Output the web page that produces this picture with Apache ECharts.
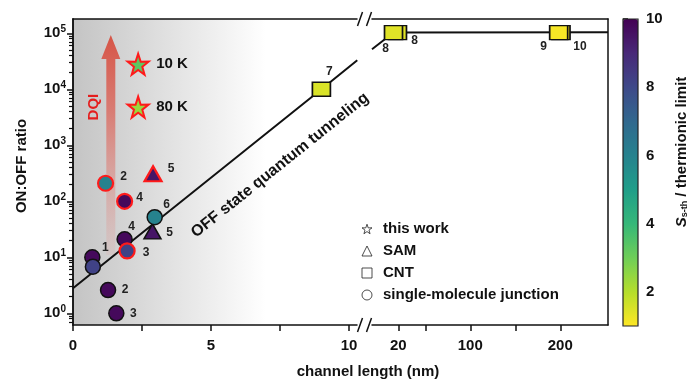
<!DOCTYPE html>
<html><head><meta charset="utf-8">
<script src="https://cdn.jsdelivr.net/npm/echarts@6/dist/echarts.min.js"></script>
<style>html,body{margin:0;padding:0;background:#fff}#c{width:690px;height:385px}</style>
</head><body><div id="c"></div>
<script>
// ---------- data ----------
const molX = [0.70, 0.72, 1.27, 1.57, 1.18, 1.87, 1.87, 1.96, 2.96];
const molY = [10, 6.8, 2.6, 1.0, 210, 100, 21, 13, 52];
const molS = [9.8, 8.2, 9.8, 9.8, 6.0, 9.8, 9.8, 8.2, 6.0];
const molLabel = ['1', '', '2', '3', '2', '4', '4', '3', '6'];
const samX = [2.88, 2.90];
const samY = [29, 310];
const samS = [9.5, 9.5];
const samLabel = ['5', '5'];
const starX = [2.36, 2.36];
const starY = [28000, 4800];
const starS = [3.3, 2.4];
const starLabel = ['10 K', '80 K'];
const cntShortX = [9.0];
const cntShortY = [10000];
const cntShortS = [1.5];
const cntShortLabel = ['7'];
const cntLongX = [19.1, 14.7, 200.8, 198.2];
const cntLongY = [103000, 103000, 103000, 103000];
const cntLongS = [1.4, 1.4, 1.1, 1.1];
const cntLongLabel = ['8', '8', '10', '9'];
const fitShortX = [0, 9, 10.3];
const fitShortY = [2.8, 10000, 33000];
const fitLongX = [-9.2, 14.7, 253];
const fitLongY = [52000, 103000, 104000];
const dqiX = 1.37, dqiFrom = 11, dqiTo = 93000;
const offTextX = 7.5, offTextY = 440;
const xTicksShort = [0, 2.5, 5, 7.5, 10];
const xLabelsShort = [0, 5, 10];
const xTicksLong = [20, 50, 100, 150, 200];
const xLabelsLong = [20, 100, 200];
const yMajor = [1, 10, 100, 1000, 10000, 100000];
const cbTicks = [2, 4, 6, 8, 10];

// ---------- styles / layout ----------
const FONT = 'Liberation Sans, Arial, sans-serif';
const viridisRev = ['#fde725','#b5de2b','#6ece58','#35b779','#1f9e89','#26828e','#31688e','#3e4989','#482878','#440154'];
const redEdgeMol = [false, false, false, false, true, true, false, true, false];
const molLabelOff = [[13,-10],[0,0],[17,0],[17,0],[18,-7],[15,-4],[7,-13],[19,2],[12,-13]];
const samRed = [false, true];
const samLabelOff = [[17,1],[18,-5]];
const cntLongLabelOff = [[17,8],[-8,16],[19,14],[-15,14]];
const G1 = {left: 73, top: 19, width: 284, height: 306};
const G2 = {left: 372, top: 19, width: 236, height: 306};
const CB = {left: 623, top: 19, width: 15, height: 307};
const yMin = Math.pow(10, -0.209), yMax = Math.pow(10, 5.255);
const yMinor = [];
for (let e = -1; e <= 5; e++) for (let k = 2; k <= 9; k++) { const v = k * Math.pow(10, e); if (v > yMin && v < yMax) yMinor.push(v); }
const starPath = 'path://M50,0 L61.8,35.1 L98.1,34.5 L69.1,56.7 L79.4,91.5 L50,70.5 L20.6,91.5 L30.9,56.7 L1.9,34.5 L38.2,35.1 Z';

const lblStyle = {fontFamily: FONT, fontWeight: 'bold', fontSize: 12, color: '#222'};
function pts(xs, ys, ss, labels, offs, edges, edgeW) {
  return xs.map((x, i) => ({
    value: [x, ys[i], ss[i]],
    itemStyle: edges && edges[i] ? {borderColor: '#ff1a1a', borderWidth: 2.2, opacity: 1} : {borderColor: '#111', borderWidth: edgeW, opacity: 1},
    label: {show: !!labels[i], formatter: labels[i], position: 'inside', align: 'center', verticalAlign: 'middle', offset: offs ? offs[i] : [0,0], ...lblStyle}
  }));
}
const axisLine = {show: true, onZero: false, lineStyle: {color: '#111', width: 1.5}};
const tickStyle = {color: '#111', width: 1.5};
const axLabel = {fontFamily: FONT, fontWeight: 'bold', fontSize: 15, color: '#111'};

const chart = echarts.init(document.getElementById('c'), null, {renderer: 'canvas'});
const option = {
  animation: false,
  backgroundColor: '#fff',
  grid: [
    {...G1, show: true, borderWidth: 0, backgroundColor: {type: 'linear', x: 0, y: 0, x2: 1, y2: 0, colorStops: [{offset: 0, color: '#c4c4c4'}, {offset: 0.68, color: '#ffffff'}]}},
    {...G2},
    {...CB}
  ],
  xAxis: [
    {gridIndex: 0, type: 'value', min: 0, max: 10.29, position: 'bottom', axisLine, splitLine: {show: false},
      axisTick: {customValues: xTicksShort, length: 6, lineStyle: tickStyle},
      axisLabel: {customValues: xLabelsShort, margin: 13, ...axLabel}},
    {gridIndex: 0, type: 'value', min: 0, max: 10.29, position: 'top', axisLine, splitLine: {show: false}, axisTick: {show: false}, axisLabel: {show: false}},
    {gridIndex: 1, type: 'value', min: -9.2, max: 253, position: 'bottom', axisLine, splitLine: {show: false},
      axisTick: {customValues: xTicksLong, length: 6, lineStyle: tickStyle},
      axisLabel: {customValues: xLabelsLong, margin: 13, ...axLabel}},
    {gridIndex: 1, type: 'value', min: -9.2, max: 253, position: 'top', axisLine, splitLine: {show: false}, axisTick: {show: false}, axisLabel: {show: false}},
    {gridIndex: 2, type: 'value', show: false, min: 0, max: 1}
  ],
  yAxis: [
    {gridIndex: 0, type: 'log', min: yMin, max: yMax, position: 'left', axisLine, splitLine: {show: false},
      axisTick: {customValues: yMajor, length: 6, lineStyle: tickStyle},
      axisLabel: {customValues: yMajor, margin: 7,
        formatter: v => '{b|10}{s|' + Math.round(Math.log10(v)) + '}',
        rich: {b: {fontFamily: FONT, fontWeight: 'bold', fontSize: 15, color: '#111', lineHeight: 18},
               s: {fontFamily: FONT, fontWeight: 'bold', fontSize: 10, color: '#111', verticalAlign: 'top', lineHeight: 10}}},
      name: 'ON:OFF ratio', nameLocation: 'middle', nameRotate: 90, nameGap: 44,
      nameTextStyle: {fontFamily: FONT, fontWeight: 'bold', fontSize: 15, color: '#111', padding: [0, 0, 0, 12]}},
    {gridIndex: 0, type: 'log', min: yMin, max: yMax, position: 'left', offset: 0,
      axisLine: {show: true, onZero: false, lineStyle: {color: '#111', width: 1.5}}, splitLine: {show: false},
      axisTick: {show: true, inside: false, customValues: yMinor, length: 4, lineStyle: {color: '#111', width: 1.2}}, axisLabel: {show: false}},
    {gridIndex: 1, type: 'log', min: yMin, max: yMax, position: 'right', axisLine, splitLine: {show: false}, axisTick: {show: false}, axisLabel: {show: false}},
    {gridIndex: 2, type: 'value', min: 1, max: 10, position: 'right', axisLine: {show: false}, splitLine: {show: false},
      axisTick: {customValues: cbTicks, length: 5, lineStyle: tickStyle},
      axisLabel: {customValues: cbTicks, margin: 8, ...axLabel}}
  ],
  visualMap: {
    type: 'continuous', min: 1, max: 10, dimension: 2, seriesIndex: [4, 5, 6, 7, 8],
    inRange: {color: viridisRev}, calculable: false, hoverLink: false,
    left: CB.left, top: CB.top, itemWidth: CB.width, itemHeight: CB.height, padding: 0, text: null, showLabel: false
  },
  legend: {
    orient: 'vertical', left: 361.5, top: 221, itemWidth: 10, itemHeight: 10, itemGap: 6, padding: 0,
    selectedMode: false,
    textStyle: {fontFamily: FONT, fontWeight: 'bold', fontSize: 15, color: '#111', padding: [0, 0, 0, 6], lineHeight: 16},
    itemStyle: {color: 'transparent', borderColor: '#222', borderWidth: 1},
    data: [{name: 'this work', icon: starPath}, {name: 'SAM', icon: 'triangle'}, {name: 'CNT', icon: 'rect'}, {name: 'single-molecule junction', icon: 'circle'}]
  },
  series: [
    {type: 'line', xAxisIndex: 0, yAxisIndex: 0, data: fitShortX.map((x, i) => [x, fitShortY[i]]), symbol: 'none', silent: true,
      lineStyle: {color: '#111', width: 2}, z: 2},
    {type: 'line', xAxisIndex: 2, yAxisIndex: 2, data: fitLongX.map((x, i) => [x, fitLongY[i]]), symbol: 'none', silent: true,
      lineStyle: {color: '#111', width: 2}, z: 2},
    {type: 'custom', xAxisIndex: 0, yAxisIndex: 0, data: [[dqiX, dqiFrom, dqiTo]], silent: true, z: 1,
      renderItem: (params, api) => {
        const p0 = api.coord([api.value(0), api.value(1)]);
        const p1 = api.coord([api.value(0), api.value(2)]);
        const x = p0[0], sw = 4.5, hw = 9.5, hl = 24;
        return {type: 'group', children: [
          {type: 'polygon', shape: {points: [[x - sw, p0[1]], [x - sw, p1[1] + hl], [x - hw, p1[1] + hl], [x, p1[1]], [x + hw, p1[1] + hl], [x + sw, p1[1] + hl], [x + sw, p0[1]]]},
            style: {fill: {type: 'linear', x: 0, y: 0, x2: 0, y2: 1, colorStops: [{offset: 0, color: 'rgba(214,84,70,1)'}, {offset: 0.35, color: 'rgba(218,110,100,0.85)'}, {offset: 1, color: 'rgba(225,150,145,0.15)'}]}}},
          {type: 'text', x: x - 17, y: p1[1] + 72, rotation: Math.PI / 2,
            style: {text: 'DQI', fill: '#e41e1e', font: 'bold 15px ' + FONT, align: 'center', verticalAlign: 'middle'}}
        ]};
      }},
    {type: 'custom', xAxisIndex: 0, yAxisIndex: 0, data: [[offTextX, offTextY]], silent: true, z: 3,
      renderItem: (params, api) => {
        const p = api.coord([api.value(0), api.value(1)]);
        return {type: 'text', x: p[0], y: p[1], rotation: Math.atan(0.8),
          style: {text: 'OFF state quantum tunneling', fill: '#111', font: 'bold 16px ' + FONT, align: 'center', verticalAlign: 'middle'}};
      }},
    {type: 'scatter', name: 'single-molecule junction', xAxisIndex: 0, yAxisIndex: 0, symbol: 'circle', symbolSize: 15, z: 5,
      data: pts(molX, molY, molS, molLabel, molLabelOff, redEdgeMol, 1.5)},
    {type: 'scatter', name: 'SAM', xAxisIndex: 0, yAxisIndex: 0, symbol: 'triangle', symbolSize: [17, 15], z: 4,
      data: pts(samX, samY, samS, samLabel, samLabelOff, samRed, 1.5)},
    {type: 'scatter', name: 'this work', xAxisIndex: 0, yAxisIndex: 0, symbol: starPath, symbolSize: 21, z: 5,
      data: starX.map((x, i) => ({value: [x, starY[i], starS[i]], itemStyle: {borderColor: '#ff1a1a', borderWidth: 2, opacity: 1},
        label: {show: true, formatter: starLabel[i], position: 'inside', align: 'left', verticalAlign: 'middle', offset: [18, 0], fontFamily: FONT, fontWeight: 'bold', fontSize: 15, color: '#111'}}))},
    {type: 'scatter', name: 'CNT', xAxisIndex: 0, yAxisIndex: 0, symbol: 'rect', symbolSize: [18, 14], z: 5,
      data: pts(cntShortX, cntShortY, cntShortS, cntShortLabel, [[8, -18]], null, 1.5)},
    {type: 'scatter', name: 'CNT', xAxisIndex: 2, yAxisIndex: 2, symbol: 'rect', symbolSize: [18, 14], z: 5,
      data: pts(cntLongX, cntLongY, cntLongS, cntLongLabel, cntLongLabelOff, null, 1.5)}
  ],
  graphic: [
    ...[G1.top, G1.top + G1.height].flatMap(cy => [360, 369].map(cx => ({type: 'line', silent: true, z: 50,
      shape: {x1: cx - 2.5, y1: cy + 7, x2: cx + 2.5, y2: cy - 7}, style: {stroke: '#111', lineWidth: 1.5}}))),
    {type: 'rect', silent: true, z: 50, shape: {x: CB.left, y: CB.top, width: CB.width, height: CB.height}, style: {fill: 'none', stroke: '#222', lineWidth: 1.2}},
    {type: 'text', silent: true, x: 368, y: 372, style: {text: 'channel length (nm)', font: 'bold 15px ' + FONT, fill: '#111', align: 'center', verticalAlign: 'middle'}},
    {type: 'text', silent: true, x: 680, y: 152, rotation: Math.PI / 2,
      style: {text: '{i|S}{sub|s-th}{n| / thermionic limit}', align: 'center', verticalAlign: 'middle',
        rich: {i: {font: 'italic bold 15px ' + FONT, fill: '#111', lineHeight: 18, verticalAlign: 'bottom'},
               sub: {font: 'bold 9px ' + FONT, fill: '#111', verticalAlign: 'bottom', lineHeight: 11},
               n: {font: 'bold 15px ' + FONT, fill: '#111', lineHeight: 18, verticalAlign: 'bottom'}}}}
  ]
};
chart.setOption(option);
</script></body></html>
